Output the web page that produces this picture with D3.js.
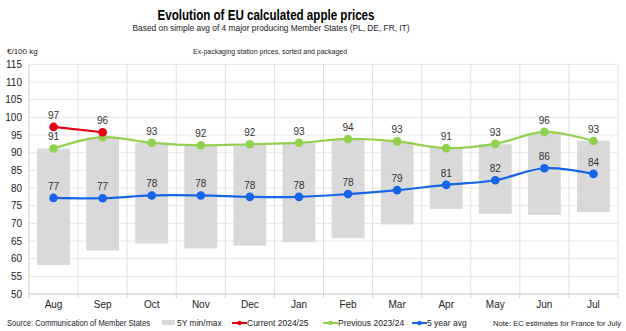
<!DOCTYPE html>
<html>
<head>
<meta charset="utf-8">
<script src="https://cdn.jsdelivr.net/npm/d3@7"></script>
<style>
  body { margin: 0; background: #fff; }
  text { font-family: "Liberation Sans", Arial, sans-serif; fill: #222; }
</style>
</head>
<body>
<div id="chart"></div>
<script>
// Monate (Wirtschaftsjahr Aug-Jul)
const months = ["Aug", "Sep", "Oct", "Nov", "Dec", "Jan", "Feb", "Mar", "Apr", "May", "Jun", "Jul"];
const fiveYearMin = [58.2, 62.3, 64.3, 62.9, 63.7, 64.7, 65.8, 69.7, 74.1, 72.7, 72.4, 73.2];
const fiveYearMax = [91.2, 94.3, 92.8, 92.1, 92.4, 92.9, 93.8, 93.1, 91.4, 92.4, 95.5, 93.4];
const current = [97.3, 95.8];
const previous = [91.2, 94.4, 92.8, 92.1, 92.4, 92.8, 93.9, 93.2, 91.3, 92.5, 95.9, 93.3];
const fiveYearAvg = [77.2, 77.1, 77.9, 77.9, 77.5, 77.5, 78.3, 79.4, 80.9, 82.2, 85.6, 84.0];
const yTicks = [50, 55, 60, 65, 70, 75, 80, 85, 90, 95, 100, 105, 110, 115];
// Sep-Label der Vorjahreslinie wird im Original nicht angezeigt
const previousHideLabel = [1];

const width = 626, height = 331;
const plotLeft = 29, plotRight = 618, plotTop = 64.4, plotBottom = 294;

const svg = d3.select("#chart").append("svg")
    .attr("width", width)
    .attr("height", height);

const x = d3.scaleBand()
    .domain(months)
    .range([plotLeft, plotRight])
    .paddingInner(0.33)
    .paddingOuter(0.165);

const xGrid = d3.scaleBand().domain(months).range([plotLeft, plotRight]);

const y = d3.scaleLinear()
    .domain([50, 115])
    .range([plotBottom, plotTop]);

const cx = m => x(m) + x.bandwidth() / 2;

// Gitter
svg.append("g")
    .selectAll("line")
    .data(yTicks)
    .enter()
    .append("line")
    .attr("x1", plotLeft)
    .attr("x2", plotRight)
    .attr("y1", d => y(d))
    .attr("y2", d => y(d))
    .attr("stroke", "#e6e6e6")
    .attr("stroke-width", 1);

svg.append("g")
    .selectAll("line")
    .data(months)
    .enter()
    .append("line")
    .attr("x1", d => xGrid(d) + xGrid.bandwidth())
    .attr("x2", d => xGrid(d) + xGrid.bandwidth())
    .attr("y1", plotTop)
    .attr("y2", plotBottom)
    .attr("stroke", "#e0e0e0")
    .attr("stroke-width", 1);

// 5Y min/max Balken
svg.append("g")
    .selectAll("rect")
    .data(months)
    .enter()
    .append("rect")
    .attr("x", d => x(d))
    .attr("width", x.bandwidth())
    .attr("y", (d, i) => y(fiveYearMax[i]))
    .attr("height", (d, i) => y(fiveYearMin[i]) - y(fiveYearMax[i]))
    .attr("fill", "#d9d9d9");

// Achsen
svg.append("line")
    .attr("x1", plotLeft).attr("x2", plotLeft)
    .attr("y1", plotTop).attr("y2", plotBottom)
    .attr("stroke", "#d0d0d0");

svg.append("line")
    .attr("x1", plotLeft).attr("x2", plotRight)
    .attr("y1", plotBottom).attr("y2", plotBottom)
    .attr("stroke", "#d0d0d0");

svg.append("g")
    .selectAll("line")
    .data(months.concat(["end"]))
    .enter()
    .append("line")
    .attr("x1", (d, i) => plotLeft + i * xGrid.step())
    .attr("x2", (d, i) => plotLeft + i * xGrid.step())
    .attr("y1", plotBottom)
    .attr("y2", plotBottom + 4)
    .attr("stroke", "#d0d0d0");

svg.append("g")
    .selectAll("text")
    .data(yTicks)
    .enter()
    .append("text")
    .attr("x", 22)
    .attr("y", d => y(d))
    .attr("dy", "0.35em")
    .attr("text-anchor", "end")
    .style("font-size", "10px")
    .text(d => d);

svg.append("g")
    .selectAll("text")
    .data(months)
    .enter()
    .append("text")
    .attr("x", d => cx(d))
    .attr("y", 307.5)
    .attr("text-anchor", "middle")
    .style("font-size", "10px")
    .text(d => d);

// Linien
function drawSeries(values, color, hidden) {
    const pts = values.map((v, i) => ({ m: months[i], v, i }));
    const line = d3.line()
        .x(d => cx(d.m))
        .y(d => y(d.v))
        .curve(d3.curveCatmullRom.alpha(0.5));

    svg.append("path")
        .datum(pts)
        .attr("d", line)
        .attr("fill", "none")
        .attr("stroke", color)
        .attr("stroke-width", 2.2);

    svg.append("g")
        .selectAll("circle")
        .data(pts)
        .enter()
        .append("circle")
        .attr("cx", d => cx(d.m))
        .attr("cy", d => y(d.v))
        .attr("r", 4.3)
        .attr("fill", color);

    svg.append("g")
        .selectAll("text")
        .data(pts.filter(d => !(hidden || []).includes(d.i)))
        .enter()
        .append("text")
        .attr("x", d => cx(d.m))
        .attr("y", d => y(d.v) - 8)
        .attr("text-anchor", "middle")
        .style("font-size", "10px")
        .style("fill", "#333")
        .text(d => Math.round(d.v));
}

drawSeries(previous, "#92d050", previousHideLabel);
drawSeries(fiveYearAvg, "#1664e8");
drawSeries(current, "#e60012");

// Titel
svg.append("text")
    .attr("x", 266)
    .attr("y", 19.5)
    .attr("text-anchor", "middle")
    .style("font-size", "14px")
    .style("font-weight", "bold")
    .style("fill", "#000")
    .attr("textLength", 217)
    .attr("lengthAdjust", "spacingAndGlyphs")
    .text("Evolution of EU calculated apple prices");

svg.append("text")
    .attr("x", 271)
    .attr("y", 30.5)
    .attr("text-anchor", "middle")
    .style("font-size", "9.5px")
    .attr("textLength", 277)
    .attr("lengthAdjust", "spacingAndGlyphs")
    .text("Based on simple avg of 4 major producing Member States (PL, DE, FR, IT)");

svg.append("text")
    .attr("x", 270)
    .attr("y", 54)
    .attr("text-anchor", "middle")
    .style("font-size", "8px")
    .attr("textLength", 154)
    .attr("lengthAdjust", "spacingAndGlyphs")
    .text("Ex-packaging station prices, sorted and packaged");

svg.append("text")
    .attr("x", 7)
    .attr("y", 54)
    .style("font-size", "8px")
    .text("€/100 kg");

// Legende
const legendY = 323;
svg.append("text")
    .attr("x", 7).attr("y", legendY + 3)
    .style("font-size", "8.5px")
    .attr("textLength", 143)
    .attr("lengthAdjust", "spacingAndGlyphs")
    .text("Source: Communication of Member States");

svg.append("rect")
    .attr("x", 162).attr("y", legendY - 3)
    .attr("width", 13).attr("height", 5)
    .attr("fill", "#d9d9d9");
svg.append("text")
    .attr("x", 177).attr("y", legendY + 3)
    .style("font-size", "8.5px")
    .text("5Y min/max");

const legendLines = [
    { label: "Current 2024/25", color: "#e60012", x0: 232 },
    { label: "Previous 2023/24", color: "#92d050", x0: 323 },
    { label: "5 year avg", color: "#1664e8", x0: 412 }
];
legendLines.forEach(d => {
    svg.append("line")
        .attr("x1", d.x0).attr("x2", d.x0 + 15)
        .attr("y1", legendY).attr("y2", legendY)
        .attr("stroke", d.color).attr("stroke-width", 2);
    svg.append("circle")
        .attr("cx", d.x0 + 7.5).attr("cy", legendY)
        .attr("r", 2.3).attr("fill", d.color);
    svg.append("text")
        .attr("x", d.x0 + 15).attr("y", legendY + 3)
        .style("font-size", "8.5px")
        .text(d.label);
});

svg.append("text")
    .attr("x", 621).attr("y", legendY + 3)
    .attr("text-anchor", "end")
    .style("font-size", "7.5px")
    .attr("textLength", 128)
    .attr("lengthAdjust", "spacingAndGlyphs")
    .text("Note: EC estimates for France for July");
</script>
</body>
</html>
